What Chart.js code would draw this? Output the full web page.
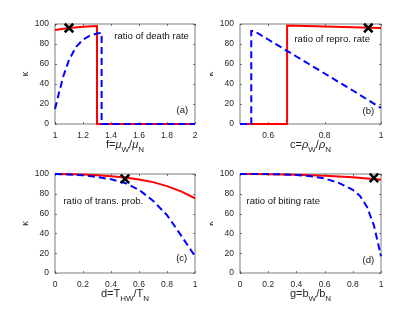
<!DOCTYPE html>
<html>
<head>
<meta charset="utf-8">
<script src="https://cdn.jsdelivr.net/npm/chart.js@4.4.1/dist/chart.umd.min.js"></script>
<style>
 body{margin:0;background:#fff;}
 #wrap{position:relative;width:420px;height:315px;}
 canvas{position:absolute;}
</style>
</head>
<body>
<div id="wrap">
 <canvas id="pa" width="210" height="157" style="left:0;top:0"></canvas>
 <canvas id="pb" width="210" height="157" style="left:210px;top:0"></canvas>
 <canvas id="pc" width="210" height="158" style="left:0;top:157px"></canvas>
 <canvas id="pd" width="210" height="158" style="left:210px;top:157px"></canvas>
</div>
<script>
// ---- data ----
const yTicks = [0,20,40,60,80,100];

// (a) ratio of death rate
const aTicks = [1,1.2,1.4,1.6,1.8,2];
const aRedX  = [1,1.1,1.2,1.3,1.3,2];
const aRedY  = [94,96,97.2,98,0,0];
const aBlueX = [1,1.03,1.06,1.1,1.15,1.2,1.25,1.3,1.333,1.333,2];
const aBlueY = [15,32,48,64,77,84.5,88.5,90.5,91,0,0];
const aMark  = [1.1,96];

// (b) ratio of repro. rate
const bTicks = [0.6,0.8,1];
const bRedX  = [0.5,0.667,0.667,0.8,1];
const bRedY  = [0,0,98.5,97.5,96];
const bBlueX = [0.5,0.54,0.54,0.55,0.6,0.7,0.8,0.9,1];
const bBlueY = [0,0,93,93,84.5,67.5,50.5,33.5,16];
const bMark  = [0.955,96];

// (c) ratio of trans. prob.
const cTicks = [0,0.2,0.4,0.6,0.8,1];
const cX     = [0,0.1,0.2,0.3,0.4,0.5,0.6,0.7,0.8,0.9,1];
const cRedY  = [100,99.8,99.4,98.8,97.8,96.4,94.5,91.8,87.8,82.5,75.5];
const cBlueY = [100,99.6,98.7,97,94.6,91,84,73,58.5,38,17];
const cMark  = [0.5,95];

// (d) ratio of biting rate
const dTicks = [0,0.2,0.4,0.6,0.8,1];
const dRedX  = [0,0.1,0.2,0.3,0.4,0.5,0.6,0.7,0.8,0.9,1];
const dRedY  = [100,99.9,99.7,99.5,99.2,98.8,98.2,97.5,96.6,95.5,94.2];
const dBlueX = [0,0.1,0.2,0.3,0.4,0.5,0.6,0.7,0.8,0.85,0.9,0.95,1];
const dBlueY = [100,100,99.9,99.6,99,97.8,95.6,91,84,78,67,48,17];
const dMark  = [0.95,96];

const FONT = '"Liberation Sans", Arial, sans-serif';
const INK = '#262626';

function pts(xs,ys){ return xs.map((x,i)=>({x:x,y:ys[i]})); }

/* MATLAB-ish box, inward ticks, kappa label, x title with subscripts, notes */
const boxPlugin = {
 id:'box',
 beforeDatasetsDraw(chart,args,o){
  const {ctx,chartArea:a,scales:{x,y}} = chart;
  ctx.save();
  ctx.strokeStyle=INK; ctx.lineWidth=0.6;
  ctx.strokeRect(a.left,a.top,a.right-a.left,a.bottom-a.top);
  ctx.beginPath();
  x.ticks.forEach(t=>{
   const p=Math.round(x.getPixelForValue(t.value))+0.5;
   ctx.moveTo(p,a.bottom); ctx.lineTo(p,a.bottom-2);
   ctx.moveTo(p,a.top); ctx.lineTo(p,a.top+2);
  });
  y.ticks.forEach(t=>{
   const p=Math.round(y.getPixelForValue(t.value))+0.5;
   ctx.moveTo(a.left,p); ctx.lineTo(a.left+2,p);
   ctx.moveTo(a.right,p); ctx.lineTo(a.right-2,p);
  });
  ctx.stroke();
  ctx.restore();
 },
 afterDraw(chart,args,o){
  const {ctx,chartArea:a,scales:{x,y}} = chart;
  ctx.save();
  ctx.fillStyle=INK;
  // y label
  ctx.save();
  ctx.translate(a.left-29,(a.top+a.bottom)/2);
  ctx.rotate(-Math.PI/2);
  ctx.font='9px '+FONT;
  ctx.textAlign='center'; ctx.textBaseline='middle';
  ctx.fillText('κ',0,0);
  ctx.restore();
  // x title pieces
  const parts=o.title;
  const fontOf=p=>(p.it?'italic ':'')+(p.sub?'8px ':'11px ')+FONT;
  let w=0;
  parts.forEach(p=>{ctx.font=fontOf(p); w+=ctx.measureText(p.t).width;});
  let cx=(a.left+a.right)/2-w/2;
  const base=a.bottom+24;
  ctx.textBaseline='alphabetic'; ctx.textAlign='left';
  parts.forEach(p=>{
   ctx.font=fontOf(p);
   ctx.fillText(p.t,cx,p.sub?base+4:base);
   cx+=ctx.measureText(p.t).width;
  });
  // notes
  ctx.fillStyle='#111';
  ctx.font='9.5px '+FONT;
  ctx.textAlign='center'; ctx.textBaseline='middle';
  ctx.fillText(o.note[0],x.getPixelForValue(o.note[1]),y.getPixelForValue(o.note[2]));
  ctx.fillText(o.tag[0],x.getPixelForValue(o.tag[1]),y.getPixelForValue(o.tag[2]));
  ctx.restore();
 }
};

function panel(id,box,cfg){
 const cv=document.getElementById(id);
 const cl=parseFloat(cv.style.left)||0, ct=parseFloat(cv.style.top)||0;
 new Chart(cv,{
  type:'scatter',
  data:{datasets:[
   {data:[{x:cfg.mark[0],y:cfg.mark[1]}],pointStyle:'crossRot',pointRadius:6,
    borderColor:'#000',borderWidth:2.5,backgroundColor:'#000',showLine:false,clip:false},
   {data:cfg.blue,showLine:true,borderColor:'#0000ff',borderWidth:2,borderDash:[7,4],
    pointRadius:0,fill:false,clip:false,tension:0},
   {data:cfg.red,showLine:true,borderColor:'#ff0000',borderWidth:2,
    pointRadius:0,fill:false,clip:false,tension:0}
  ]},
  options:{
   responsive:false,animation:false,devicePixelRatio:1,
   layout:{padding:{left:0,bottom:0,top:box.T-ct,right:cl+cv.width-box.R}},
   plugins:{legend:{display:false},tooltip:{enabled:false},
    box:{title:cfg.title,note:cfg.note,tag:cfg.tag}},
   scales:{
    x:{type:'linear',min:cfg.xmin,max:cfg.xmax,
     afterBuildTicks:s=>{s.ticks=cfg.xt.map(v=>({value:v}));},
     afterFit:s=>{s.height=ct+cv.height-box.B;},
     grid:{display:false,drawTicks:false,tickLength:0},border:{display:false},
     ticks:{autoSkip:false,maxRotation:0,padding:7,color:INK,
      font:{family:FONT,size:8.5},callback:v=>String(v)}},
    y:{type:'linear',min:0,max:100,
     afterBuildTicks:s=>{s.ticks=yTicks.map(v=>({value:v}));},
     afterFit:s=>{s.width=box.L-cl;},
     grid:{display:false,drawTicks:false,tickLength:0},border:{display:false},
     ticks:{padding:6,color:INK,font:{family:FONT,size:8.5},callback:v=>String(v)}}
   }
  },
  plugins:[boxPlugin]
 });
}

const mu='μ', rho='ρ';
panel('pa',{L:55,T:24,R:195,B:124},{
 xmin:1,xmax:2,xt:aTicks,red:pts(aRedX,aRedY),blue:pts(aBlueX,aBlueY),mark:aMark,
 note:['ratio of death rate',1.69,88],tag:['(a)',1.91,14],
 title:[{t:'f='},{t:mu,it:1},{t:'W',sub:1},{t:'/'},{t:mu,it:1},{t:'N',sub:1}]});
panel('pb',{L:240,T:24,R:381,B:124},{
 xmin:0.5,xmax:1,xt:bTicks,red:pts(bRedX,bRedY),blue:pts(bBlueX,bBlueY),mark:bMark,
 note:['ratio of repro. rate',0.827,85],tag:['(b)',0.955,13],
 title:[{t:'c='},{t:rho,it:1},{t:'W',sub:1},{t:'/'},{t:rho,it:1},{t:'N',sub:1}]});
panel('pc',{L:55,T:174,R:195,B:273},{
 xmin:0,xmax:1,xt:cTicks,red:pts(cX,cRedY),blue:pts(cX,cBlueY),mark:cMark,
 note:['ratio of trans. prob.',0.345,72],tag:['(c)',0.905,15],
 title:[{t:'d=T'},{t:'HW',sub:1},{t:'/T'},{t:'N',sub:1}]});
panel('pd',{L:240,T:174,R:381,B:273},{
 xmin:0,xmax:1,xt:dTicks,red:pts(dRedX,dRedY),blue:pts(dBlueX,dBlueY),mark:dMark,
 note:['ratio of biting rate',0.307,72.5],tag:['(d)',0.91,13],
 title:[{t:'g=b'},{t:'W',sub:1},{t:'/b'},{t:'N',sub:1}]});
</script>
</body>
</html>
